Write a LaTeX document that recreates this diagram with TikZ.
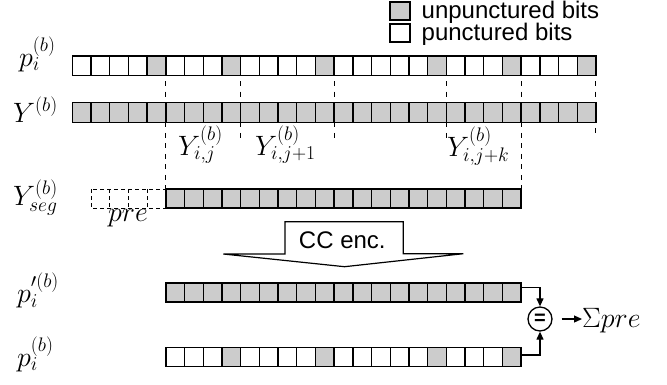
\RequirePackage{fix-cm}
\documentclass[tikz,border=0pt]{standalone}
\usepackage[no-math]{fontspec}
\newfontfamily\arialfont{Liberation Sans}
\usetikzlibrary{arrows.meta}

\definecolor{bitgray}{gray}{0.8}

\tikzset{
  cell/.style={draw=black, line width=1.4pt},
  oncell/.style={cell, fill=bitgray},
  precell/.style={draw=black, line width=1pt, dash pattern=on 4pt off 3pt},
  guide/.style={draw=black, line width=1pt, dash pattern=on 5pt off 5.5pt},
  mathlbl/.style={inner sep=0pt, anchor=base west, font=\fontsize{28}{33}\selectfont},
  sanslbl/.style={inner sep=0pt, font=\arialfont\fontsize{24}{28}\selectfont},
  conn/.style={draw=black, line width=1.2pt, -{Triangle[length=8pt,width=7pt]}},
}

% grid of bit positions
\def\xo{72.3}
\def\cw{18.7}

\begin{document}
\begin{tikzpicture}[x=1pt, y=-1pt]
\useasboundingbox (0,0) rectangle (667,384);

% ---------- legend ----------
\draw[oncell] (390,2) rectangle (410,20);
\draw[cell] (390,24) rectangle (410,42);
\node[sanslbl, anchor=base west] (leg1) at (421.5,18.5) {unpunctured bits};
\node[sanslbl, anchor=base west] (leg2) at (421.5,40) {punctured bits};

% ---------- guide lines ----------
\foreach \b in {5,9,14,20,24,28}
  \draw[guide, dash phase=5pt] ({\xo+\b*\cw},75.5) -- ({\xo+\b*\cw},102.3);
\foreach \b in {5,24}
  \draw[guide] ({\xo+\b*\cw},122.3) -- ({\xo+\b*\cw},189);
\foreach \b in {9,14,20}
  \draw[guide] ({\xo+\b*\cw},122.3) -- ({\xo+\b*\cw},142);
\draw[guide, dash phase=5pt] ({\xo+28*\cw},122.3) -- ({\xo+28*\cw},133);

% ---------- p_i^(b) (full) ----------
\foreach \i in {0,...,27} \draw[cell] ({\xo+\i*\cw},56) rectangle ++(\cw,19.5);
\foreach \i in {4,8,13,19,23,27} \draw[oncell] ({\xo+\i*\cw},56) rectangle ++(\cw,19.5);

% ---------- Y^(b) ----------
\foreach \i in {0,...,27} \draw[oncell] ({\xo+\i*\cw},102.3) rectangle ++(\cw,20);

% ---------- Y_seg^(b) with prefix ----------
\draw[precell] ({\xo+1*\cw},189) rectangle ({\xo+5*\cw},208);
\foreach \b in {2,3,4} \draw[precell] ({\xo+\b*\cw},189) -- ({\xo+\b*\cw},208);
\foreach \i in {5,...,23} \draw[oncell] ({\xo+\i*\cw},189) rectangle ++(\cw,19);

% ---------- p'_i^(b) ----------
\foreach \i in {5,...,23} \draw[oncell] ({\xo+\i*\cw},283) rectangle ++(\cw,19);

% ---------- p_i^(b) (segment) ----------
\foreach \i in {5,...,23} \draw[cell] ({\xo+\i*\cw},347.5) rectangle ++(\cw,19);
\foreach \i in {8,13,19,23} \draw[oncell] ({\xo+\i*\cw},347.5) rectangle ++(\cw,19);

% ---------- row labels ----------
\node[mathlbl] (lp1) at (19,66) {$p_i^{(b)}$};
\node[mathlbl] (lY) at (13,122) {$Y^{(b)}$};
\node[mathlbl] (lseg) at (13,205) {$Y_{seg}^{(b)}$};
\node[mathlbl] (lpp) at (17,302.5) {$p_i^{\prime(b)}$};
\node[mathlbl] (lp2) at (17,366) {$p_i^{(b)}$};

% ---------- segment labels ----------
\node[mathlbl] (yij) at (178,155) {$Y_{i,j}^{(b)}$};
\node[mathlbl] (yij1) at (255,155) {$Y_{i,j+1}^{(b)}$};
\node[mathlbl] (yijk) at (447,156) {$Y_{i,j+k}^{(b)}$};
\node[mathlbl, anchor=base] (pre) at (128,221) {$pre$};

% ---------- encoder arrow ----------
\draw[line width=1.2pt, fill=white, line join=miter]
  (285,221.7) -- (403.3,221.7) -- (403.3,253.7) -- (463.3,253.7)
  -- (344.5,266.7) -- (223.3,254) -- (285,254) -- cycle;
\node[sanslbl, anchor=base] (cc) at (342.3,248.3) {CC enc.};

% ---------- comparison ----------
\coordinate (ppout) at ({\xo+24*\cw},287.5);
\coordinate (pbout) at ({\xo+24*\cw},355);
\node[draw=black, circle, line width=1.3pt, minimum size=24pt, inner sep=0pt] (eq) at (540,319)
  {\arialfont\bfseries\fontsize{20}{20}\selectfont =};
\node[mathlbl] (sum) at (582,327) {$\Sigma pre$};

\draw[conn] (ppout) -| (eq.north);
\draw[conn] (pbout) -| (eq.south);
\draw[conn, shorten <=9pt] (eq.east) -- (eq.east -| sum.west);
\end{tikzpicture}
\end{document}
